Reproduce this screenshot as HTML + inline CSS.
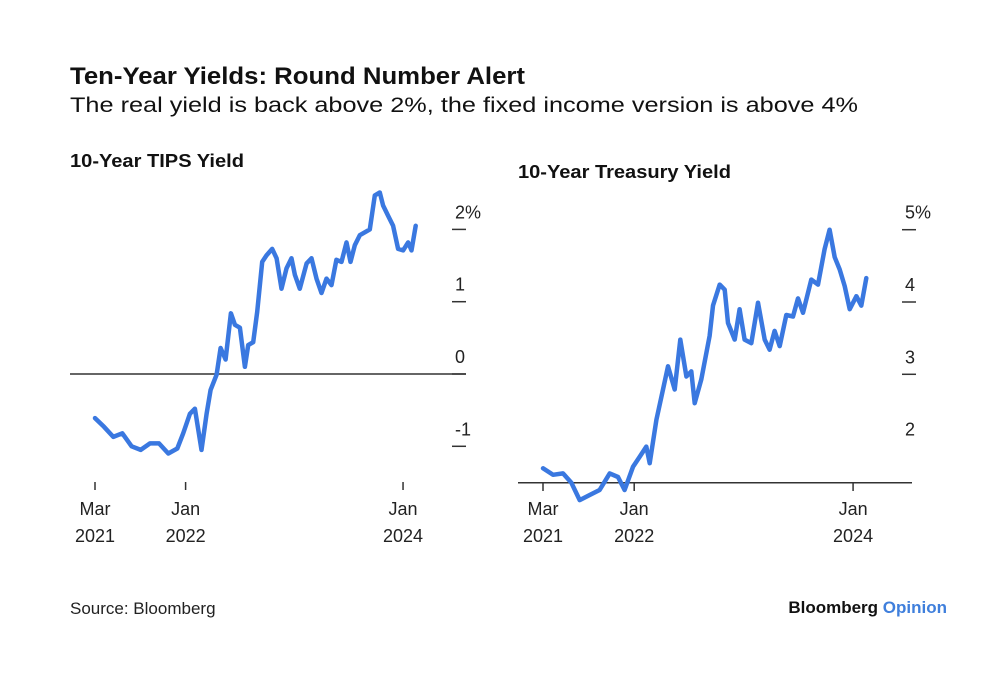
<!DOCTYPE html>
<html><head><meta charset="utf-8"><style>
html,body{margin:0;padding:0;background:#fff;}
svg{display:block;font-family:"Liberation Sans",Arial,sans-serif;}
</style></head><body>
<svg id="c" width="1000" height="683" viewBox="0 0 1000 683">
<text x="70" y="84" font-size="24" font-weight="bold" fill="#111" textLength="455" lengthAdjust="spacingAndGlyphs">Ten-Year Yields: Round Number Alert</text>
<text x="70" y="112" font-size="21" fill="#111" textLength="788" lengthAdjust="spacingAndGlyphs">The real yield is back above 2%, the fixed income version is above 4%</text>
<text x="70" y="167" font-size="18" font-weight="bold" fill="#111" textLength="174" lengthAdjust="spacingAndGlyphs">10-Year TIPS Yield</text>
<text x="518" y="178" font-size="18" font-weight="bold" fill="#111" textLength="213" lengthAdjust="spacingAndGlyphs">10-Year Treasury Yield</text>
<g id="left"></g>
<g id="right"></g>
<text x="70" y="614" font-size="17" fill="#222">Source: Bloomberg</text>
<text x="947" y="613" font-size="17" font-weight="bold" text-anchor="end" fill="#111">Bloomberg <tspan fill="#3f7fdc">Opinion</tspan></text>
</svg>
<script>
// TIPS: months since Mar 2021, yield %
const tipsMonths=[0,0.99,2.02,3.01,4.04,5.04,6.07,7.06,8.09,9.08,9.74,10.48,11.03,11.76,12.32,12.76,13.42,13.86,14.41,15.0,15.44,15.99,16.54,16.91,17.46,17.9,18.46,18.93,19.56,20.04,20.59,21.14,21.69,22.06,22.61,23.35,23.9,24.45,25.0,25.55,26.1,26.65,27.21,27.76,28.2,28.68,29.23,29.78,30.33,30.88,31.43,31.8,32.35,32.9,33.46,34.01,34.56,34.93,35.4];
const tipsVals=[-0.61,-0.73,-0.87,-0.82,-1.0,-1.05,-0.96,-0.96,-1.1,-1.03,-0.82,-0.55,-0.48,-1.05,-0.55,-0.22,-0.01,0.36,0.2,0.84,0.68,0.64,0.1,0.4,0.44,0.86,1.55,1.64,1.73,1.6,1.18,1.46,1.6,1.37,1.18,1.53,1.6,1.32,1.12,1.32,1.23,1.58,1.55,1.82,1.55,1.78,1.92,1.96,2.0,2.47,2.51,2.33,2.19,2.05,1.73,1.71,1.82,1.71,2.05];
const tipsTicks=[2,1,0,-1];
const tipsTickLabels=["2%","1","0","-1"];
// Treasury: months since Mar 2021, yield %
const tsyMonths=[0,1.10,2.19,3.11,4.02,5.12,6.21,7.31,8.22,8.95,9.87,10.6,11.33,11.7,12.43,13.16,13.71,14.44,15.06,15.72,16.26,16.63,17.36,18.27,18.64,19.37,19.92,20.28,21.02,21.56,22.11,22.84,23.57,24.31,24.85,25.4,25.95,26.68,27.41,27.96,28.51,29.42,30.15,30.88,31.43,31.98,32.53,33.08,33.63,34.36,34.9,35.45];
const tsyVals=[1.70,1.61,1.63,1.50,1.26,1.33,1.40,1.63,1.58,1.40,1.72,1.86,2.0,1.77,2.37,2.79,3.11,2.79,3.48,2.97,3.04,2.60,2.93,3.53,3.95,4.24,4.17,3.71,3.48,3.90,3.48,3.43,3.99,3.48,3.34,3.60,3.39,3.82,3.80,4.05,3.85,4.31,4.24,4.73,5.00,4.62,4.45,4.22,3.90,4.08,3.95,4.33];
const tsyTicks=[5,4,3];
const tsyTickLabels=["5%","4","3"];
const xTickMonths=[0,10,34];
const xTickTop=["Mar","Jan","Jan"];
const xTickBottom=["2021","2022","2024"];

const NS="http://www.w3.org/2000/svg";
function mk(parent,tag,attrs){const e=document.createElementNS(NS,tag);for(const k in attrs)e.setAttribute(k,attrs[k]);parent.appendChild(e);return e;}

function draw(g,cfg){
  const xS=m=>cfg.x0+m*cfg.pxm;
  const yS=v=>cfg.yRef-(v-cfg.vRef)*72.3;
  const bl=mk(g,'line',{x1:cfg.bx1,x2:cfg.bx2,y1:yS(cfg.base),y2:yS(cfg.base),stroke:'#333','stroke-width':1.5});
  
  
  cfg.ticks.forEach((t,i)=>{
    const l=mk(g,'line',{x1:cfg.tx,x2:cfg.tx+14,y1:yS(t),y2:yS(t),stroke:'#333','stroke-width':1.5});
    
    
    const tx=mk(g,'text',{x:cfg.tx+3,y:yS(t)-11,'font-size':18,fill:'#222'});
    tx.textContent=cfg.labels[i];
    
    
  });
  if(cfg.extra){
    const tx=mk(g,'text',{x:cfg.tx+3,y:yS(cfg.extra[0])-11,'font-size':18,fill:'#222'});
    tx.textContent=cfg.extra[1];
    
    
  }
  xTickMonths.forEach((m,i)=>{
    const x=xS(m);
    const l=mk(g,'line',{x1:x,x2:x,y1:cfg.xtY,y2:cfg.xtY+8,stroke:'#333','stroke-width':1.5});
    
    
    const a=mk(g,'text',{x:x,y:515,'font-size':18,fill:'#222','text-anchor':'middle'});
    a.textContent=xTickTop[i];
    
    
    const b=mk(g,'text',{x:x,y:542,'font-size':18,fill:'#222','text-anchor':'middle'});
    b.textContent=xTickBottom[i];
    
    
  });
  const d=cfg.months.map((m,i)=>(i?'L':'M')+xS(m).toFixed(1)+','+yS(cfg.vals[i]).toFixed(1)).join('');
  const p=mk(g,'path',{d:d,fill:'none',stroke:'#3a78e0','stroke-width':4.5,'stroke-linejoin':'round','stroke-linecap':'round'});
  
  
}
draw(document.getElementById('left'),{x0:95,pxm:9.06,yRef:374,vRef:0,base:0,bx1:70,bx2:466,tx:452,xtY:482,ticks:tipsTicks,labels:tipsTickLabels,months:tipsMonths,vals:tipsVals});
draw(document.getElementById('right'),{x0:543,pxm:9.12,yRef:302,vRef:4,base:1.5,bx1:518,bx2:912,tx:902,xtY:483,ticks:tsyTicks,labels:tsyTickLabels,extra:[2,"2"],months:tsyMonths,vals:tsyVals});
</script>
</body></html>
